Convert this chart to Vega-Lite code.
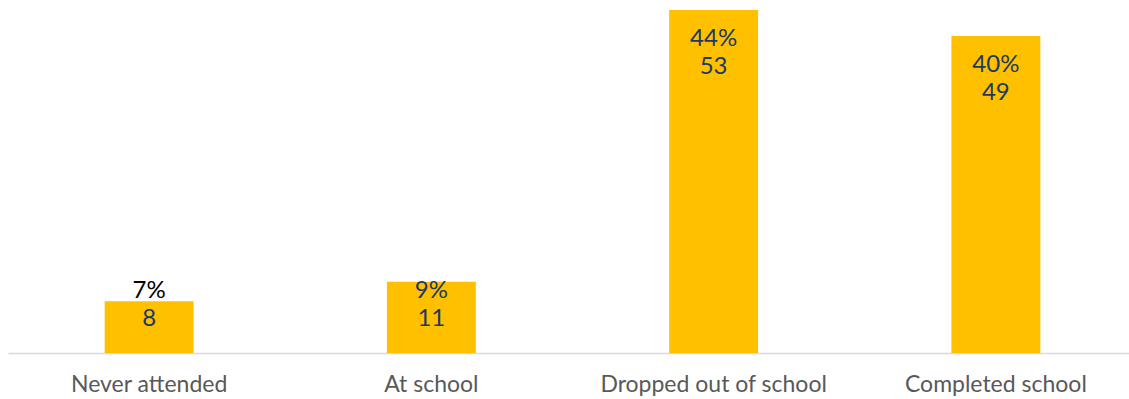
{
  "$schema": "https://vega.github.io/schema/vega-lite/v6.json",
  "width": 1121,
  "height": 343,
  "autosize": {"type": "none"},
  "padding": {"left": 8, "top": 10, "right": 0, "bottom": 46},
  "background": "white",
  "config": {"view": {"stroke": null}},
  "data": {
    "values": [
      {"cat": "Never attended", "n": 8, "pct": "7%"},
      {"cat": "At school", "n": 11, "pct": "9%"},
      {"cat": "Dropped out of school", "n": 53, "pct": "44%"},
      {"cat": "Completed school", "n": 49, "pct": "40%"}
    ]
  },
  "encoding": {
    "x": {
      "field": "cat",
      "type": "nominal",
      "sort": null,
      "scale": {"range": [0, 1129], "paddingInner": 0.685, "paddingOuter": 0.3425},
      "axis": {
        "title": null,
        "labelAngle": 0,
        "ticks": false,
        "domainColor": "#d9d9d9",
        "domainWidth": 1.5,
        "labelFont": "Lato",
        "labelFontSize": 23,
        "labelColor": "#595959",
        "labelPadding": 20,
        "labelLimit": 0
      }
    },
    "y": {
      "field": "n",
      "type": "quantitative",
      "scale": {"domain": [0, 53], "nice": false},
      "axis": null
    }
  },
  "layer": [
    {"mark": {"type": "bar", "color": "#FFC000"}},
    {
      "transform": [{"filter": "datum.n > 20"}],
      "mark": {"type": "text", "font": "Lato", "fontSize": 24, "color": "#203864", "baseline": "middle", "dy": 29},
      "encoding": {"text": {"field": "pct"}}
    },
    {
      "transform": [{"filter": "datum.n > 20"}],
      "mark": {"type": "text", "font": "Lato", "fontSize": 24, "color": "#203864", "baseline": "middle", "dy": 57},
      "encoding": {"text": {"field": "n"}}
    },
    {
      "transform": [{"filter": "datum.cat === 'At school'"}],
      "mark": {"type": "text", "font": "Lato", "fontSize": 24, "color": "#203864", "baseline": "middle", "dy": 9},
      "encoding": {"text": {"field": "pct"}}
    },
    {
      "transform": [{"filter": "datum.cat === 'At school'"}],
      "mark": {"type": "text", "font": "Lato", "fontSize": 24, "color": "#203864", "baseline": "middle", "dy": 37},
      "encoding": {"text": {"field": "n"}}
    },
    {
      "transform": [{"filter": "datum.cat === 'Never attended'"}],
      "mark": {"type": "text", "font": "Lato", "fontSize": 24, "color": "#000000", "baseline": "middle", "dy": -10},
      "encoding": {"text": {"field": "pct"}}
    },
    {
      "transform": [{"filter": "datum.cat === 'Never attended'"}],
      "mark": {"type": "text", "font": "Lato", "fontSize": 24, "color": "#203864", "baseline": "middle", "dy": 18},
      "encoding": {"text": {"field": "n"}}
    }
  ]
}
